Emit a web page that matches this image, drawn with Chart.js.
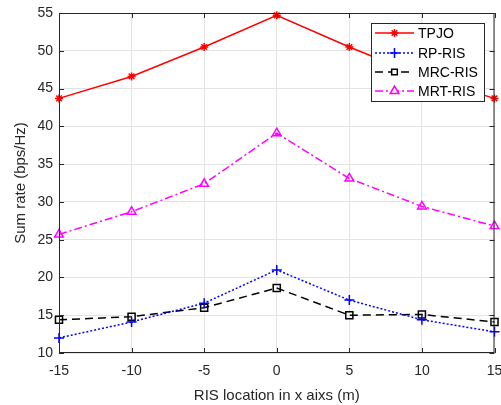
<!DOCTYPE html>
<html>
<head>
<meta charset="utf-8">
<script src="https://cdn.jsdelivr.net/npm/chart.js@4/dist/chart.umd.min.js"></script>
<style>
  html, body { margin: 0; padding: 0; background: #fff; }
  #wrap { width: 501px; height: 405px; }
</style>
</head>
<body>
<div id="wrap"><canvas id="c" width="501" height="405"></canvas></div>
<script>
// RIS location (m) vs sum rate
const xPos = [-15, -10, -5, 0, 5, 10, 15];
const tpjo = [43.7, 46.6, 50.5, 54.7, 50.5, 46.6, 43.7];
const rpRis = [12.0, 14.1, 16.6, 21.0, 17.0, 14.4, 12.8];
const mrcRis = [14.4, 14.8, 16.0, 18.6, 15.0, 15.1, 14.1];
const mrtRis = [25.7, 28.7, 32.4, 39.1, 33.1, 29.4, 26.8];

const seriesNames = ['TPJO', 'RP-RIS', 'MRC-RIS', 'MRT-RIS'];
const xTitle = 'RIS location in x aixs (m)';
const yTitle = 'Sum rate (bps/Hz)';

const AX = '#262626';
const FONT = '"Liberation Sans", Arial, Helvetica, sans-serif';

function pts(ys) {
    return xPos.map((x, i) => ({ x: x, y: ys[i] }));
}

function ds(label, ys, color, dash, style, radius) {
    return {
        label: label,
        data: pts(ys),
        borderColor: color,
        backgroundColor: 'transparent',
        borderWidth: 1.5,
        borderDash: dash,
        pointStyle: style,
        pointRadius: radius,
        pointBorderColor: color,
        pointBackgroundColor: 'transparent',
        pointBorderWidth: 1.5,
        tension: 0,
        clip: false
    };
}

// box, inward ticks and legend like the matlab figure
const boxPlugin = {
    id: 'boxPlugin',
    afterDraw(chart) {
        const ctx = chart.ctx;
        const a = chart.chartArea;
        const xs = chart.scales.x, ys = chart.scales.y;
        ctx.save();
        ctx.strokeStyle = AX;
        ctx.lineWidth = 1;
        ctx.strokeRect(a.left + 0.5, a.top + 0.5, a.right - a.left - 1, a.bottom - a.top - 1);
        const tl = 5;
        ctx.beginPath();
        xs.ticks.forEach(t => {
            const px = Math.round(xs.getPixelForValue(t.value)) + 0.5;
            ctx.moveTo(px, a.bottom); ctx.lineTo(px, a.bottom - tl);
            ctx.moveTo(px, a.top); ctx.lineTo(px, a.top + tl);
        });
        ys.ticks.forEach(t => {
            const py = Math.round(ys.getPixelForValue(t.value)) + 0.5;
            ctx.moveTo(a.left, py); ctx.lineTo(a.left + tl, py);
            ctx.moveTo(a.right, py); ctx.lineTo(a.right - tl, py);
        });
        ctx.stroke();

        // legend
        const lx = 371, ly = 23, lw = 113, lh = 78;
        ctx.fillStyle = '#fff';
        ctx.fillRect(lx, ly, lw, lh);
        ctx.strokeStyle = AX;
        ctx.lineWidth = 1;
        ctx.strokeRect(lx + 0.5, ly + 0.5, lw, lh);
        const rowY = [33, 53, 72, 91];
        chart.data.datasets.forEach((d, i) => {
            const y = rowY[i];
            ctx.save();
            ctx.strokeStyle = d.borderColor;
            ctx.lineWidth = d.borderWidth;
            ctx.setLineDash(d.borderDash || []);
            ctx.beginPath();
            ctx.moveTo(375, y); ctx.lineTo(414, y);
            ctx.stroke();
            ctx.setLineDash([]);
            ctx.fillStyle = '#fff';
            Chart.helpers.drawPoint(ctx, {
                pointStyle: d.pointStyle,
                radius: d.pointStyle === 'rect' ? 4 : d.pointRadius,
                rotation: 0,
                borderWidth: d.pointBorderWidth
            }, 394.5, y);
            ctx.restore();
            ctx.fillStyle = '#000';
            ctx.font = '14px ' + FONT;
            ctx.textBaseline = 'middle';
            ctx.textAlign = 'left';
            ctx.fillText(d.label, 418, y + 1);
        });
        ctx.restore();
    }
};

new Chart(document.getElementById('c').getContext('2d'), {
    type: 'line',
    data: {
        datasets: [
            ds(seriesNames[0], tpjo, '#ff0000', [], 'star', 4),
            ds(seriesNames[1], rpRis, '#0000ff', [2, 2], 'cross', 5),
            ds(seriesNames[2], mrcRis, '#000000', [8, 5], 'rect', 5),
            ds(seriesNames[3], mrtRis, '#ff00ff', [8, 3, 2, 3], 'triangle', 5)
        ]
    },
    options: {
        responsive: false,
        animation: false,
        layout: { padding: { left: 0, top: 13, right: 6, bottom: 0 } },
        plugins: {
            legend: { display: false },
            tooltip: { enabled: false }
        },
        scales: {
            x: {
                type: 'linear',
                min: -15,
                max: 15,
                ticks: {
                    stepSize: 5,
                    color: AX,
                    font: { family: FONT, size: 14 },
                    padding: 10,
                    maxRotation: 0
                },
                grid: { color: '#e3e3e3', drawTicks: false },
                border: { display: false },
                title: {
                    display: true,
                    text: xTitle,
                    color: AX,
                    font: { family: FONT, size: 15 },
                    padding: { top: 2, bottom: 0 }
                },
                afterFit(scale) {
                    scale.height = 52;
                    scale.paddingLeft = 0;
                    scale.paddingRight = 0;
                }
            },
            y: {
                min: 10,
                max: 55,
                ticks: {
                    stepSize: 5,
                    color: AX,
                    font: { family: FONT, size: 14 },
                    padding: 6
                },
                grid: { color: '#e3e3e3', drawTicks: false },
                border: { display: false },
                title: {
                    display: true,
                    text: yTitle,
                    color: AX,
                    font: { family: FONT, size: 15 },
                    padding: { top: 12, bottom: 4 }
                },
                afterFit(scale) {
                    scale.width = 59;
                    scale.paddingTop = 0;
                    scale.paddingBottom = 0;
                }
            }
        }
    },
    plugins: [boxPlugin]
});
</script>
</body>
</html>
